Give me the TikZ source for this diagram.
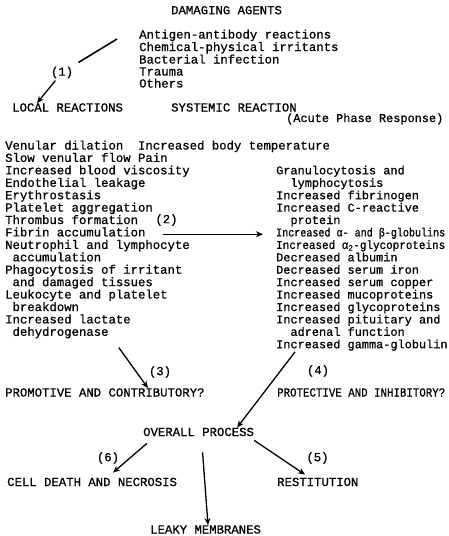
\documentclass[tikz,border=0pt]{standalone}
\usepackage{fontspec}
\usepackage{graphicx}
\usetikzlibrary{arrows.meta}
\newfontfamily\twf{Liberation Mono}[FakeBold=0.8]
\newcommand\twsize{\twf\fontsize{12.3}{12.3}\selectfont}
\newcommand\twsmall{\twf\fontsize{11.9}{11.9}\selectfont}
\begin{document}
\begin{tikzpicture}[x=1pt,y=-1pt,
  txt/.style={inner sep=0pt,anchor=base west,font=\twsize},
  rtxt/.style={inner sep=0pt,anchor=base west,font=\twsmall},
  lbl/.style={inner sep=1pt,font=\twsize},
  arr/.style={line width=1.3pt,-{Stealth[length=7pt,width=6pt]}},
  bar/.style={line width=1.6pt}]
\useasboundingbox (0,0) rectangle (449,536);
\fill[white] (0,0) rectangle (449,536);
% top
\node[txt] (dam) at (171,14.2) {DAMAGING AGENTS};
\node[txt] (a1) at (139,38.5) {Antigen-antibody reactions};
\node[txt] (a2) at (139,51) {Chemical-physical irritants};
\node[txt] (a3) at (139,63.5) {Bacterial infection};
\node[txt] (a4) at (139,75.5) {Trauma};
\node[txt] (a5) at (139,87.5) {Others};
\node[txt] (local) at (12,111.5) {LOCAL REACTIONS};
\node[txt] (sys) at (171,111.5) {SYSTEMIC REACTION};
\node[rtxt] (acute) at (286,122) {(Acute Phase Response)};
% arrow (1)
\coordinate (s1) at (117,39);
\node[lbl] (n1) at (62,72.5) {(1)};
\draw[bar,shorten >=6pt] (s1) -- (n1);
\draw[arr,shorten <=1.5pt] (n1) -- ([xshift=25pt]local.north west);
% left column
\node[txt] (l1) at (5,149.5) {Venular dilation\ \ Increased body temperature};
\node[txt] (l2) at (5,161.9) {Slow venular flow Pain};
\node[txt] (l3) at (5,174.3) {Increased blood viscosity};
\node[txt] (l4) at (5,186.8) {Endothelial leakage};
\node[txt] (l5) at (5,199.2) {Erythrostasis};
\node[txt] (l6) at (5,211.6) {Platelet aggregation};
\node[txt] (l7) at (5,224.0) {Thrombus formation};
\node[txt] (l8) at (5,236.4) {Fibrin accumulation};
\node[txt] (l9) at (5,248.9) {Neutrophil and lymphocyte};
\node[txt] (l10) at (5,261.3) {\ accumulation};
\node[txt] (l11) at (5,273.7) {Phagocytosis of irritant};
\node[txt] (l12) at (5,286.1) {\ and damaged tissues};
\node[txt] (l13) at (5,298.5) {Leukocyte and platelet};
\node[txt] (l14) at (5,311.0) {\ breakdown};
\node[txt] (l15) at (5,323.4) {Increased lactate};
\node[txt] (l16) at (5,335.8) {\ dehydrogenase};
% right column
\node[rtxt] (r1) at (276,174.3) {Granulocytosis and};
\node[rtxt] (r2) at (276,186.8) {\ \ lymphocytosis};
\node[rtxt] (r3) at (276,199.2) {Increased fibrinogen};
\node[rtxt] (r4) at (276,211.6) {Increased C-reactive};
\node[rtxt] (r5) at (276,224.0) {\ \ protein};
\node[rtxt] (r6) at (276,236.4) {\resizebox{169pt}{\height}{Increased α- and β-globulins}};
\node[rtxt] (r7) at (276,248.9) {\resizebox{169pt}{\height}{Increased α\textsubscript{2}-glycoproteins}};
\node[rtxt] (r8) at (276,261.3) {Decreased albumin};
\node[rtxt] (r9) at (276,273.7) {Decreased serum iron};
\node[rtxt] (r10) at (276,286.1) {Increased serum copper};
\node[rtxt] (r11) at (276,298.5) {Increased mucoproteins};
\node[rtxt] (r12) at (276,311.0) {Increased glycoproteins};
\node[rtxt] (r13) at (276,323.4) {Increased pituitary and};
\node[rtxt] (r14) at (276,335.8) {\ \ adrenal function};
\node[rtxt] (r15) at (276,348.2) {Increased gamma-globulin};
% arrow (2)
\node[lbl] (n2) at (166.5,220) {(2)};
\draw[arr,shorten <=17pt,shorten >=13pt] (l8.mid east) -- (r6.mid west);
% middle row
\node[txt] (promo) at (5,396.5) {PROMOTIVE AND CONTRIBUTORY?};
\node[txt] (prot) at (277,396.5) {\resizebox{168pt}{\height}{PROTECTIVE AND INHIBITORY?}};
\node[lbl] (n3) at (160,372) {(3)};
\node[lbl] (n4) at (318,371) {(4)};
\draw[arr] ([shift={(10,9)}]l16.south east) -- ([xshift=143pt]promo.north west);
% bottom
\node[txt] (overall) at (143,436) {OVERALL PROCESS};
\draw[arr] ([shift={(19,1)}]r15.south west) -- ([xshift=-17pt]overall.north east);
\node[txt] (cell) at (7,486) {CELL DEATH AND NECROSIS};
\node[txt] (rest) at (277,486) {RESTITUTION};
\node[txt] (leaky) at (150,533.5) {LEAKY MEMBRANES};
\node[lbl] (n6) at (108,458) {(6)};
\node[lbl] (n5) at (317.5,458) {(5)};
\draw[arr] ([shift={(4,7)}]overall.south west) -- ([shift={(106,-5)}]cell.north west);
\draw[arr] ([shift={(4,16)}]overall.south) -- ([xshift=58pt]leaky.north west);
\draw[arr] ([shift={(0,4)}]overall.south east) -- ([shift={(28,-3)}]rest.north west);
\end{tikzpicture}
\end{document}
